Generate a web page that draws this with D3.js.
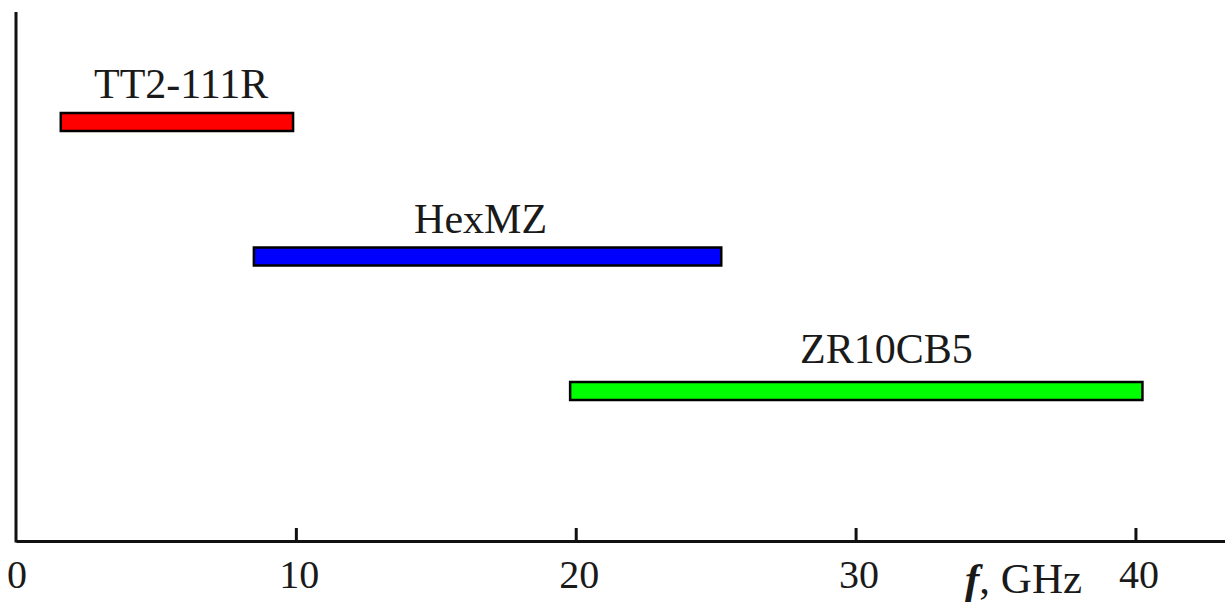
<!DOCTYPE html>
<html>
<head>
<meta charset="utf-8">
<script src="https://cdn.jsdelivr.net/npm/d3@7"></script>
<style>
	body { margin: 0; background: #fff; }
	text { font-family: 'Liberation Serif', 'Times New Roman', Times, serif; fill: #1a1a1a; }
</style>
</head>
<body>
<svg id="chart"></svg>
<script>
// frequency bands of the three antennas (GHz)
const devices = ['TT2-111R', 'HexMZ', 'ZR10CB5'];
const bandStart = [1.6, 8.5, 19.8];
const bandEnd = [9.9, 25.2, 40.25];
const labelAt = [5.9, 16.6, 31.1];
const barColors = ['#ff0000', '#0000ff', '#00ff00'];
const xTicks = [10, 20, 30, 40];

const width = 1225;
const height = 609;

const svg = d3.select('#chart')
	.attr('width', width)
	.attr('height', height);

const x = d3.scaleLinear().domain([0, 43.2]).range([16, 1225]);
const y = d3.scalePoint().domain(devices).range([122, 391]);

const axisY = 541;
const barH = 18;

// x axis: ticks pointing inward (upwards)
const xAxis = d3.axisBottom(x)
	.tickValues(xTicks)
	.tickSize(-13)
	.tickSizeOuter(0)
	.tickFormat(d3.format('d'));

const gx = svg.append('g')
	.attr('transform', `translate(0,${axisY})`)
	.attr('font-family', null)
	.call(xAxis);
gx.select('.domain').attr('stroke', '#111').attr('stroke-width', 3);
gx.selectAll('.tick line').attr('stroke', '#111').attr('stroke-width', 3);
gx.selectAll('.tick text')
	.attr('x', 3)
	.attr('y', 47)
	.attr('dy', 0)
	.style('font-size', '40px')
	.attr('fill', '#1a1a1a');

// the 0 label at the origin
svg.append('text')
	.attr('x', x(0) + 1)
	.attr('y', axisY + 47)
	.attr('text-anchor', 'middle')
	.style('font-size', '40px')
	.text('0');

// vertical axis line
svg.append('line')
	.attr('x1', x(0)).attr('x2', x(0))
	.attr('y1', 12).attr('y2', axisY + 1.5)
	.attr('stroke', '#111')
	.attr('stroke-width', 3);

// axis title
const title = svg.append('text')
	.attr('x', 965)
	.attr('y', 593)
	.style('font-size', '43px');
title.append('tspan')
	.style('font-weight', 'bold')
	.style('font-style', 'italic')
	.text('f');
title.append('tspan').text(', GHz');

// bars
svg.selectAll('.band')
	.data(devices)
	.join('rect')
	.attr('class', 'band')
	.attr('x', (d, i) => x(bandStart[i]))
	.attr('y', d => y(d) - barH / 2)
	.attr('width', (d, i) => x(bandEnd[i]) - x(bandStart[i]))
	.attr('height', barH)
	.attr('fill', (d, i) => barColors[i])
	.attr('stroke', '#000')
	.attr('stroke-width', 2.5);

// bar labels
svg.selectAll('.band-label')
	.data(devices)
	.join('text')
	.attr('class', 'band-label')
	.attr('x', (d, i) => x(labelAt[i]))
	.attr('y', (d, i) => y(d) - barH / 2 - [15, 15, 19][i])
	.attr('text-anchor', 'middle')
	.style('font-size', '42px')
	.text(d => d);
</script>
</body>
</html>
